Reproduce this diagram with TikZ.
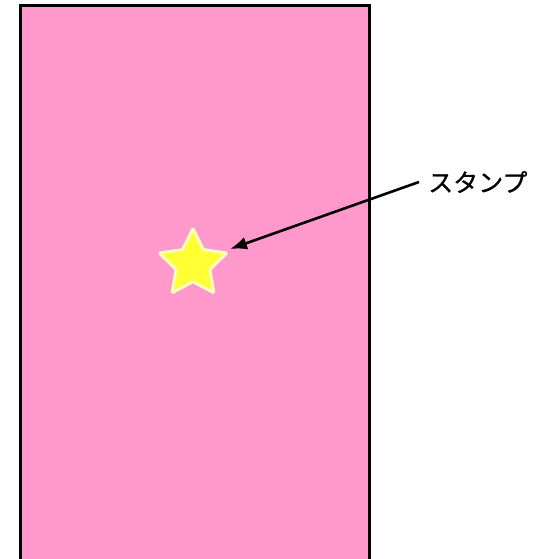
\documentclass[tikz,border=0pt]{standalone}
\usepackage{fontspec}
\newfontfamily\cjk[FakeBold=0.7]{Noto Sans CJK JP}
\usetikzlibrary{shapes.geometric,arrows.meta}
\definecolor{pinkbg}{HTML}{FF99CC}
\definecolor{staryellow}{HTML}{FFFF33}
\tikzset{
  card/.style={fill=pinkbg, draw=black, line width=3pt},
  stamp/.style={star, star points=5, star point ratio=2.0, minimum size=71pt, inner sep=0pt, fill=staryellow, draw=white!75!yellow, line width=3pt, rounded corners=1pt},
  pointer/.style={-{Latex[length=17pt,width=13pt]}, line width=2.6pt},
  lbl/.style={font=\cjk\fontsize{25}{28}\selectfont, inner sep=0pt, anchor=west}
}
\begin{document}
\begin{tikzpicture}[x=1pt,y=1pt]
\useasboundingbox (0,0) rectangle (549,559);
\begin{scope}
\clip (0,0) rectangle (549,559);
\draw[card] (20,-10) rectangle (369,553.5);
\end{scope}
\node[stamp] (s) at (193,295) {};
\node[lbl] (t) at (428,377) {スタンプ};
\coordinate (tail) at (419,377);
\coordinate (tip) at (230,310);
\draw[pointer] (tail) -- (tip);
\end{tikzpicture}
\end{document}
